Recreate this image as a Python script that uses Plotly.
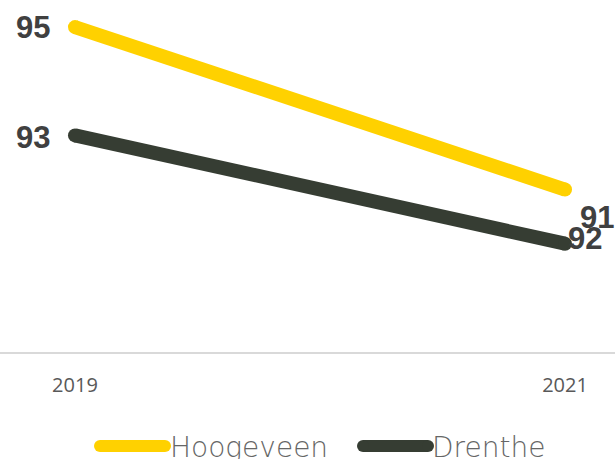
import plotly.graph_objects as go

years = ["2019", "2021"]
hoogeveen = [95, 92]
drenthe = [93, 91]

series_names = ["Hoogeveen", "Drenthe"]
series_colors = ["#FFD100", "#363D33"]

W, H = 615, 459
PLOT_H = 352  # plot area height in px (top margin 0)


def px_x(p):
    return p / W


def px_y(p):
    return (PLOT_H - p) / PLOT_H


fig = go.Figure()
for name, vals, color in zip(series_names, [hoogeveen, drenthe], series_colors):
    fig.add_trace(
        go.Scatter(
            x=years,
            y=vals,
            name=name,
            mode="lines+markers",
            line={"color": color, "width": 14},
            marker={"color": color, "size": 14, "line": {"width": 0}},
            showlegend=False,
            hoverinfo="skip",
        )
    )

label_font = {"family": "Liberation Sans", "size": 31, "color": "#404040"}
# (category index, value, xshift, yshift) for each data label
label_specs = [
    (0, hoogeveen[0], -42, 0),
    (0, drenthe[0], -42, -2),
    (1, hoogeveen[1], 20, -49),
    (1, drenthe[1], 32, 26),
]
for i, y, xs, ys in label_specs:
    fig.add_annotation(
        x=i, y=y, xref="x", yref="y", text=f"<b>{y}</b>", showarrow=False,
        xanchor="center", yanchor="middle", xshift=xs, yshift=ys, font=label_font,
    )

# custom legend with long rounded line symbols
legend_items = [
    (series_names[0], series_colors[0], 100, 165, 168),
    (series_names[1], series_colors[1], 363, 428, 430),
]
ly = px_y(446)
for name, color, a, b, tx in legend_items:
    fig.add_shape(
        type="line", xref="paper", yref="paper",
        x0=px_x(a), x1=px_x(b), y0=ly, y1=ly,
        line={"color": color, "width": 12},
    )
    for end in (a, b):
        fig.add_shape(
            type="circle", xref="paper", yref="paper",
            xsizemode="pixel", ysizemode="pixel",
            xanchor=px_x(end), yanchor=ly,
            x0=-6, x1=6, y0=-6, y1=6,
            fillcolor=color, line={"width": 0},
        )
    fig.add_annotation(
        x=px_x(tx), y=ly, xref="paper", yref="paper", text=name,
        showarrow=False, xanchor="left", yanchor="middle", yshift=-1,
        font={"family": "DejaVu Sans", "size": 28, "color": "#666666", "weight": 300},
    )

fig.update_xaxes(
    type="category",
    range=[-0.153, 1.102],
    showgrid=False,
    showline=True,
    linecolor="#D9D9D9",
    linewidth=2,
    ticks="",
    ticklabelstandoff=14,
    tickfont={"family": "Open Sans", "size": 20, "color": "#595959"},
    zeroline=False,
)
fig.update_yaxes(
    range=[89, 95.5],
    showgrid=False,
    showticklabels=False,
    zeroline=False,
    showline=False,
)
fig.update_layout(
    width=W,
    height=H,
    margin={"l": 0, "r": 0, "t": 0, "b": H - PLOT_H},
    paper_bgcolor="white",
    plot_bgcolor="white",
    showlegend=False,
)

fig.write_html(
    "out.html",
    config={"displayModeBar": False},
    post_script="document.body.style.margin='0';document.body.style.overflow='hidden';",
)
